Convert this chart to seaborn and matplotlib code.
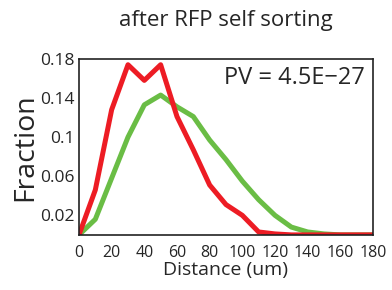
import matplotlib
matplotlib.use("Agg")
import matplotlib.pyplot as plt
import seaborn as sns
import pandas as pd

# distance bins (um)
distance = [0, 10, 20, 30, 40, 50, 60, 70, 80, 90, 100, 110, 120, 130, 140, 150, 160, 170, 180]
# red: after RFP self sorting
red_frac = [0.0, 0.046, 0.128, 0.174, 0.158, 0.174, 0.121, 0.087, 0.051, 0.031, 0.020, 0.003, 0.001,
            0.0, 0.0, 0.0, 0.0, 0.0, 0.0]
# green: reference distribution
green_frac = [0.0, 0.016, 0.058, 0.100, 0.133, 0.143, 0.131, 0.121, 0.097, 0.077, 0.055, 0.036, 0.020,
              0.008, 0.003, 0.001, 0.0, 0.0, 0.0]
yticks = [0.02, 0.06, 0.1, 0.14, 0.18]
ytick_labels = ["0.02", "0.06", "0.1", "0.14", "0.18"]
xticks = list(range(0, 181, 20))

df = pd.DataFrame({"Distance": distance + distance,
                   "Fraction": green_frac + red_frac,
                   "group": ["green"] * len(distance) + ["red"] * len(distance)})

sns.set_style("white")
plt.rcParams["font.family"] = ["Open Sans", "DejaVu Sans"]

fig = plt.figure(figsize=(3.92, 2.90), dpi=100)
ax = fig.add_axes([0.2015, 0.19, 0.75, 0.607])
sns.lineplot(data=df, x="Distance", y="Fraction", hue="group",
             palette={"green": "#6abd45", "red": "#ed1c24"},
             linewidth=3.6, legend=False, ax=ax)

ax.set_xlim(0, 180)
ax.set_ylim(0, 0.18)
ax.set_xticks(xticks)
ax.set_xticklabels([str(t) for t in xticks], fontsize=11.5)
ax.set_yticks(yticks)
ax.set_yticklabels(ytick_labels, fontsize=12.5)
ax.tick_params(axis="x", direction="in", length=3, width=0.8, color="#333333", pad=7)
ax.tick_params(axis="y", direction="inout", length=4, width=0.8, color="#333333", pad=1)
ax.set_xlabel("Distance (um)", fontsize=14, labelpad=0)
ax.set_ylabel("Fraction", fontsize=20.5, labelpad=1)
ax.set_title("after RFP self sorting", fontsize=16, pad=24)
for side in ["top", "right", "left", "bottom"]:
    ax.spines[side].set_color("#222222")
    ax.spines[side].set_linewidth(1.2)
ax.text(0.973, 0.96, "PV = 4.5E\u221227", transform=ax.transAxes,
        ha="right", va="top", fontsize=17)

fig.savefig("out.png", dpi=100)
